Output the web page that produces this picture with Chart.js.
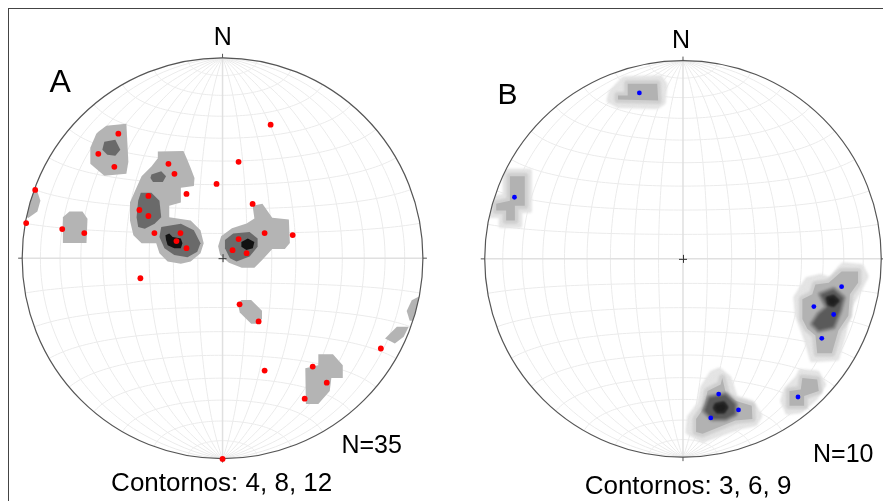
<!DOCTYPE html>
<html>
<head>
<meta charset="utf-8">
<script src="https://cdn.jsdelivr.net/npm/chart.js@4.4.0/dist/chart.umd.min.js"></script>
<style>
  html, body { margin: 0; padding: 0; background: #fff; }
  body { width: 883px; height: 501px; position: relative; overflow: hidden; font-family: "Liberation Sans", Arial, sans-serif; }
  .frame { position: absolute; left: 8px; top: 8px; width: 920px; height: 540px; border-top: 1px solid #444; border-left: 1px solid #444; }
  canvas { position: absolute; top: 0; }
  #netA { left: 0; }
  #netB { left: 450px; }
  .lbl { position: absolute; color: #000; white-space: nowrap; line-height: 1; }
  .mid { transform: translateX(-50%); }
</style>
</head>
<body>
<div class="frame"></div>
<canvas id="netA" width="450" height="501"></canvas>
<canvas id="netB" width="433" height="501"></canvas>

<div class="lbl mid" style="left:222.7px; top:23.8px; font-size:25px;">N</div>
<div class="lbl mid" style="left:681px; top:26.5px; font-size:25px;">N</div>
<div class="lbl" style="left:49.5px; top:64.6px; font-size:32px;">A</div>
<div class="lbl" style="left:497.6px; top:78.6px; font-size:30px;">B</div>
<div class="lbl" style="left:341.4px; top:432.1px; font-size:25px;">N=35</div>
<div class="lbl" style="left:813px; top:440.5px; font-size:25px;">N=10</div>
<div class="lbl mid" style="left:221.7px; top:469px; font-size:26px;">Contornos: 4, 8, 12</div>
<div class="lbl mid" style="left:688px; top:472px; font-size:26px;">Contornos: 3, 6, 9</div>

<script>
// units: radius of the net = 100, x to the east, y to the north

// polos red A (35)
const polesA = [
  [-52,62],[-62,52],[-54,45.5],[24,66.5],[-27,47],[-24,42],[8,48],[-3,37],[-18,32],[-37,31],
  [-41.5,24],[-37,21],[15,27],[-34,12.5],[-21,12.5],[-23,8.5],[-18,5],[21,12.5],[35,11.5],[8,9.5],
  [5,4],[12,2.5],[-41,-10],[-93.5,34],[-98,17.5],[-80,14.5],[-69,12.5],[8.5,-23],[18,-31.5],[79,-45],
  [21,-56],[45,-54],[52,-62],[41,-70],[0,-100]
];

// polos red B (10)
const polesB = [
  [-22,83.5],[-85,31],[80,-14],[66,-24],[76,-28],[70,-40],[18,-68],[28,-76],[14,-80],[58,-69.5]
];

// contornos A: 4, 8, 12
const contourA4 = [
  [[-62,63],[-58,66],[-48,67],[-47,48],[-48,42],[-59,41],[-66,47],[-66,55],[-63,62]],
  [[-32.3,53.1],[-19.5,53.4],[-17.9,49.8],[-15.9,44.9],[-14,40],[-14.3,35.9],[-20.8,35.1],[-20.8,27.7],
   [-26.6,26.1],[-26.6,20.4],[-15.9,18.8],[-11,13.9],[-9.4,7.4],[-11,2.5],[-15.9,-1.7],[-20.8,-2.8],
   [-27.4,-1.7],[-31.5,2.5],[-33.1,7.4],[-40.4,7.4],[-44.5,11.4],[-46.2,18.8],[-46.2,27.7],[-43.7,33.5],
   [-40.4,40.8],[-35.5,45.7],[-32.3,49.8]],
  [[-2.2,6],[-0.7,10.9],[4.7,14.9],[12,17.3],[15.9,19.8],[15,26.1],[19.9,27.1],[24.8,20.2],[33.1,19.3],
   [33.6,7.5],[31.1,4.6],[24.8,4.6],[19.9,-0.8],[15.9,-4.8],[9.6,-4.8],[3.2,-2.3],[-1.2,1.6]],
  [[-79.7,20.4],[-76.4,23.2],[-69.9,23.2],[-67.4,19.6],[-67.9,7.6],[-79.7,7.6]],
  [[-93,35],[-90.9,28.6],[-92.4,23.2],[-97,20],[-100,22],[-100,35]],
  [[7.7,-22.9],[9.4,-20.8],[14.3,-20.8],[19.7,-26.2],[19.7,-30.2],[17.5,-32.7],[14.3,-32.7],[8.6,-27]],
  [[47.8,-47.9],[55.1,-47.9],[60,-53.4],[60,-59.7],[54.3,-59.7],[53.5,-66.2],[47.8,-72.7],[41.6,-72.7],
   [41.3,-54.8],[47.8,-53.4]],
  [[81.1,-40],[87,-34.2],[92.9,-34.2],[90.4,-39.1],[86,-42.5]],
  [[91.9,-26.3],[94.4,-20.9],[98.3,-19],[100,-25],[97.8,-31.2],[93.4,-31.2]]
];
const contourA8 = [
  [[-59,58],[-53.5,59],[-51,54],[-53.5,51],[-57.5,51.5],[-60,54]],
  [[-35.5,41.7],[-30.6,43.3],[-28.2,40.8],[-29.8,38],[-34.7,38],[-36,40]],
  [[-40.8,32.6],[-35.5,32.6],[-31.5,28.6],[-30.6,20.4],[-33.9,17.2],[-38.8,14.7],[-42.1,15.5],[-42.9,20.4],[-42.1,28.6]],
  [[-30.6,15.5],[-20.8,17.2],[-14.3,13.9],[-11,7.4],[-12.6,3.2],[-17.5,0.5],[-24.1,1.6],[-29,4.9],[-31.5,10.6]],
  [[1.2,9],[5.3,12.3],[13.5,13],[17.5,9.8],[17.5,5.7],[13.5,0.8],[7,-1.7],[3.7,0],[1.2,4.9]]
];
const contourA12 = [
  [[-28.5,11.4],[-26.6,12.3],[-24.9,10.6],[-20.8,9.8],[-20,7.4],[-20.8,4.9],[-24.1,4.9],[-27.4,6.5],[-28.2,9]],
  [[9.4,8.1],[12.6,9.8],[15.9,8.1],[15.1,4.9],[11.9,4.1],[9.4,5.7]]
];

// contornos B: 3, 6, 9 (+ halo)
const haloB = [
  [[-29.8,90.6],[-11.5,91.1],[-9.1,87.6],[-10,78.7],[-13,76.7],[-32.8,77.2],[-37.3,79.7],[-36.3,83.7]],
  [[-89.7,44.1],[-77.4,44.1],[-77.4,24.3],[-82.3,24.3],[-82.3,16.8],[-91.7,16.8],[-91.7,21.8],[-96.7,21.8],[-96.7,30.2],[-89.7,31.7]],
  [[80.9,-3],[89.9,-3.8],[92.4,-8.8],[89.1,-15.3],[84.2,-23.6],[80.9,-38.5],[77.6,-50],[65.2,-50.8],[62.7,-41.7],
   [57.8,-28.6],[56.9,-19.5],[62.7,-10.4],[69.3,-8.8],[74.3,-10.4],[79.2,-4.6]],
  [[14.7,-57.4],[18.2,-55.9],[23.1,-59.9],[26.4,-69.8],[34.7,-72.3],[38.8,-78.9],[36.3,-83],[28.1,-84.6],[9.9,-91.2],
   [2.5,-87.1],[3.3,-79.7],[8.3,-73.1],[9.9,-64.8]],
  [[59.4,-56.6],[67.7,-57.4],[71,-63.2],[66.8,-69.8],[59.4,-76.4],[52.8,-77.2],[50.3,-71.4],[52,-65.7],[57.8,-59.9]]
];
const contourB3 = [
  [[-27.9,88.1],[-13,88.1],[-12.5,79.7],[-32.8,80.2],[-32.8,82.2],[-27.9,82.2]],
  [[-87.3,41.6],[-79.8,41.6],[-79.8,26.7],[-84.8,26.7],[-84.8,19.3],[-89.2,19.3],[-89.2,24.3],[-94.2,24.3],[-94.2,27.7],[-87.3,29.2]],
  [[80,-6.3],[88.3,-6.3],[88.3,-12],[84.2,-17.8],[83.4,-28.6],[78.4,-36],[75.1,-47.5],[67.7,-47.5],[66.8,-38.5],
   [62.7,-35.1],[60.2,-30.2],[60.2,-20.3],[65.2,-17.8],[66.8,-12.9],[73.5,-12]],
  [[19.8,-59.9],[21.8,-68.2],[26.4,-71.4],[34.7,-73.9],[35,-80.5],[26.4,-81.3],[9.9,-88],[6.6,-87.1],[6.6,-80.5],
   [10.7,-74.7],[12.4,-66.5],[19,-63.2]],
  [[60.2,-59.9],[67.7,-60.7],[68.5,-66.5],[61.1,-69],[61.1,-73.9],[53.7,-73.9],[53.7,-66.5],[59.4,-65.7]]
];
const contourB6 = [
  [[69.3,-17.8],[75.9,-15.3],[80.9,-19.5],[79.2,-26.1],[75.9,-34.3],[68.5,-36],[65.2,-32.7],[68.5,-27.7],[72.6,-24.4]],
  [[13.2,-69.8],[21.5,-68.2],[26.4,-73.1],[26.4,-78.1],[21.5,-80.5],[14.9,-80.5],[10.7,-76.4]]
];
const contourB9 = [
  [[72.6,-19.5],[75.9,-18.7],[78.4,-21.1],[75.9,-23.6],[73.5,-22.8]],
  [[16.5,-73.1],[20.6,-72.3],[22.3,-74.7],[20.6,-77.2],[17.3,-77.2],[15.7,-75.1]]
];

// Schmidt net (equal area), lines every 10 degrees
const project = (lon, lat) => {
  const l = lon * Math.PI / 180, f = lat * Math.PI / 180;
  const k = Math.sqrt(1 / (1 + Math.cos(f) * Math.cos(l)));
  return [100 * k * Math.cos(f) * Math.sin(l), 100 * k * Math.sin(f)];
};

const netPlugin = {
  id: 'net',
  beforeDatasetsDraw(chart, args, opts) {
    const ctx = chart.ctx;
    const sx = chart.scales.x, sy = chart.scales.y;
    const toPx = p => [sx.getPixelForValue(p[0]), sy.getPixelForValue(p[1])];
    const cx = sx.getPixelForValue(0), cy = sy.getPixelForValue(0);
    const r = sx.getPixelForValue(100) - cx;

    const path = pts => {
      ctx.beginPath();
      pts.forEach((p, i) => {
        const q = toPx(p);
        if (i === 0) ctx.moveTo(q[0], q[1]); else ctx.lineTo(q[0], q[1]);
      });
    };

    ctx.save();
    // grid
    ctx.strokeStyle = '#ebebeb';
    ctx.lineWidth = 1;
    for (let lon = -80; lon <= 80; lon += 10) {
      if (lon === 0) continue;
      const pts = [];
      for (let lat = -90; lat <= 90; lat += 2) pts.push(project(lon, lat));
      path(pts); ctx.stroke();
    }
    for (let lat = -80; lat <= 80; lat += 10) {
      if (lat === 0) continue;
      const pts = [];
      for (let lon = -90; lon <= 90; lon += 2) pts.push(project(lon, lat));
      path(pts); ctx.stroke();
    }
    ctx.strokeStyle = '#e0e0e0';
    ctx.lineWidth = 1.5;
    path([[-100, 0], [100, 0]]); ctx.stroke();
    path([[0, -100], [0, 100]]); ctx.stroke();

    // contours, clipped to the primitive
    ctx.beginPath();
    ctx.arc(cx, cy, r, 0, Math.PI * 2);
    ctx.clip();
    ctx.lineJoin = 'round';
    (opts.layers || []).forEach(layer => {
      ctx.fillStyle = layer.color;
      ctx.strokeStyle = layer.color;
      ctx.filter = layer.blur ? `blur(${layer.blur}px)` : 'none';
      layer.polys.forEach(poly => {
        path(poly); ctx.closePath(); ctx.fill();
        if (layer.grow) { ctx.lineWidth = layer.grow; ctx.stroke(); }
      });
    });
    ctx.restore();

    // primitive, ticks, centre cross
    ctx.save();
    ctx.strokeStyle = '#555';
    ctx.lineWidth = 1.2;
    ctx.beginPath();
    ctx.arc(cx, cy, r, 0, Math.PI * 2);
    ctx.stroke();
    ctx.lineWidth = 1;
    ctx.beginPath();
    ctx.moveTo(cx, cy - r); ctx.lineTo(cx, cy - r - 4);
    ctx.moveTo(cx, cy + r); ctx.lineTo(cx, cy + r + 4);
    ctx.moveTo(cx - r, cy); ctx.lineTo(cx - r - 4, cy);
    ctx.moveTo(cx + r, cy); ctx.lineTo(cx + r + 4, cy);
    ctx.stroke();
    ctx.strokeStyle = '#333';
    ctx.beginPath();
    ctx.moveTo(cx - 4, cy + 0.5); ctx.lineTo(cx + 4, cy + 0.5);
    ctx.moveTo(cx + 0.5, cy - 4); ctx.lineTo(cx + 0.5, cy + 4);
    ctx.stroke();
    ctx.restore();
  }
};

// place a net: centre (cx, cy) and radius r in canvas pixels
const makeNet = (id, poles, color, radius, layers, place) => {
  const cv = document.getElementById(id);
  const k = place.r / 100;
  return new Chart(cv, {
    type: 'scatter',
    data: {
      datasets: [{
        data: poles.map(p => ({ x: p[0], y: p[1] })),
        backgroundColor: color,
        borderWidth: 0,
        pointRadius: radius,
        clip: false
      }]
    },
    options: {
      responsive: false,
      animation: false,
      events: [],
      layout: { padding: 0 },
      plugins: {
        legend: { display: false },
        tooltip: { enabled: false },
        net: { layers }
      },
      scales: {
        x: { type: 'linear', display: false, min: -place.cx / k, max: (cv.width - place.cx) / k },
        y: { type: 'linear', display: false, min: -(cv.height - place.cy) / k, max: place.cy / k }
      }
    },
    plugins: [netPlugin]
  });
};

makeNet('netA', polesA, '#ff0000', 2.9, [
  { color: '#b4b4b4', polys: contourA4 },
  { color: '#6a6a6a', polys: contourA8 },
  { color: '#111111', polys: contourA12 }
], { cx: 222.5, cy: 258.3, r: 204 });

makeNet('netB', polesB, '#0000ff', 2.4, [
  { color: '#e4e4e4', polys: haloB, grow: 5, blur: 0.8 },
  { color: '#cfcfcf', polys: contourB3, grow: 7, blur: 0.8 },
  { color: '#b2b2b2', polys: contourB3, blur: 0.6 },
  { color: '#8a8a8a', polys: contourB6, grow: 5, blur: 1 },
  { color: '#5a5a5a', polys: contourB6, blur: 1 },
  { color: '#1e1e1e', polys: contourB9, grow: 2, blur: 1 }
], { cx: 233.3, cy: 259, r: 202 });
</script>
</body>
</html>
